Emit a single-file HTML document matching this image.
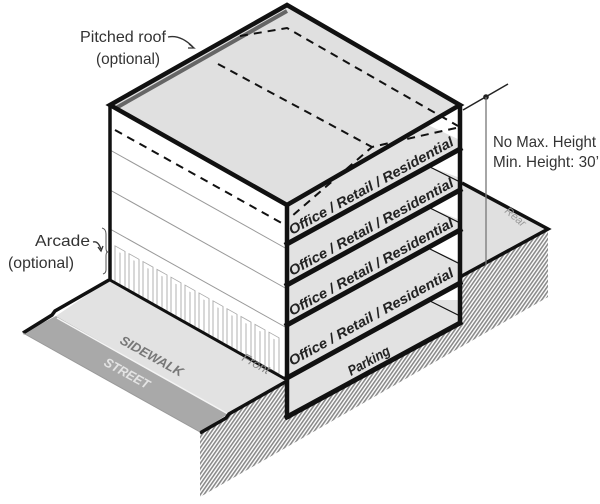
<!DOCTYPE html>
<html><head><meta charset="utf-8"><style>html,body{margin:0;padding:0;background:#fff}svg{display:block}</style></head>
<body>
<svg width="600" height="504" viewBox="0 0 600 504" xmlns="http://www.w3.org/2000/svg" font-family="Liberation Sans, sans-serif">
<defs>
<pattern id="h" width="3" height="3" patternUnits="userSpaceOnUse" patternTransform="rotate(35)">
<rect width="3" height="3" fill="#fff"/><rect width="1.6" height="3" fill="#8a8a8a"/>
</pattern>
</defs>
<!-- hatched ground -->
<polygon points="200,432 287,382 287,417 460,323 460,277 548,229 548,297 200,497" fill="url(#h)"/>
<!-- street & sidewalk -->
<polygon points="23,333 56,316 228,414 200,432" fill="#a9a9a9"/>
<polygon points="56,316 109,280 287,380 228,414" fill="#e2e2e2"/>
<line x1="57" y1="318" x2="228" y2="414" stroke="#f4f4f4" stroke-width="1.5"/>
<polyline points="109,280 55,311 52,315 23,333" fill="none" stroke="#111" stroke-width="3.5"/>
<polyline points="200,433 226,418 229,414 287,381" fill="none" stroke="#111" stroke-width="3.5"/>
<line x1="23" y1="333" x2="200" y2="432" stroke="#999" stroke-width="1"/>
<!-- rear lot -->
<polygon points="460,183 548,229 460,277" fill="#e0e0e0"/>
<polyline points="462,183 548,229 460,277" fill="none" stroke="#111" stroke-width="3.5"/>
<!-- left face -->
<polygon points="110,105 287,205 287,380 110,280" fill="#fff"/>
<g stroke="#999" stroke-width="1" fill="none">
<line x1="110" y1="150" x2="287" y2="249"/>
<line x1="110" y1="190" x2="287" y2="289"/>
<line x1="110" y1="229" x2="287" y2="328"/>
</g>
<g transform="translate(110,0) skewY(29.3)" stroke="#aaa" stroke-width="0.9" fill="none">
<rect x="5" y="243" width="10" height="36"/><line x1="10" y1="247" x2="10" y2="279"/>
<rect x="19" y="243" width="10" height="36"/><line x1="24" y1="247" x2="24" y2="279"/>
<rect x="33" y="243" width="10" height="36"/><line x1="38" y1="247" x2="38" y2="279"/>
<rect x="47" y="243" width="10" height="36"/><line x1="52" y1="247" x2="52" y2="279"/>
<rect x="61" y="243" width="10" height="36"/><line x1="66" y1="247" x2="66" y2="279"/>
<rect x="75" y="243" width="10" height="36"/><line x1="80" y1="247" x2="80" y2="279"/>
<rect x="89" y="243" width="10" height="36"/><line x1="94" y1="247" x2="94" y2="279"/>
<rect x="103" y="243" width="10" height="36"/><line x1="108" y1="247" x2="108" y2="279"/>
<rect x="117" y="243" width="10" height="36"/><line x1="122" y1="247" x2="122" y2="279"/>
<rect x="131" y="243" width="10" height="36"/><line x1="136" y1="247" x2="136" y2="279"/>
<rect x="145" y="243" width="10" height="36"/><line x1="150" y1="247" x2="150" y2="279"/>
<rect x="159" y="243" width="10" height="36"/><line x1="164" y1="247" x2="164" y2="279"/>
</g>
<line x1="110" y1="280" x2="287" y2="380" stroke="#111" stroke-width="3"/>
<line x1="110" y1="105" x2="110" y2="281" stroke="#111" stroke-width="3.5"/>
<line x1="115" y1="130" x2="287" y2="226" stroke="#111" stroke-width="2" stroke-dasharray="8,6"/>
<!-- section bands -->
<polygon points="287,205 460,107 460,323 287,417" fill="#e2e2e2"/>
<g fill="#fff">
<polygon points="428,125 460,107 460,140"/>
<polygon points="428,166 460,149 460,178"/>
<polygon points="428,207 460,190 460,220"/>
<polygon points="428,248 460,230 460,262"/>
<polygon points="428,300 460,283 460,300"/>
</g>
<g stroke="#111" stroke-width="1.2">
<line x1="428" y1="166" x2="460" y2="182"/>
<line x1="428" y1="207" x2="460" y2="223"/>
<line x1="428" y1="248" x2="460" y2="264"/>
<line x1="428" y1="300" x2="460" y2="316"/>
</g>
<g stroke="#111" stroke-width="5" stroke-linecap="square">
<line x1="287" y1="244" x2="460" y2="149"/>
<line x1="287" y1="285" x2="460" y2="190"/>
<line x1="287" y1="325" x2="460" y2="230"/>
<line x1="287" y1="378" x2="460" y2="283"/>
<line x1="287" y1="417" x2="460" y2="323"/>
</g>
<line x1="287" y1="205" x2="287" y2="419" stroke="#111" stroke-width="4.5"/>
<line x1="460" y1="105" x2="460" y2="324" stroke="#111" stroke-width="4.5"/>
<g font-weight="bold" font-style="italic" font-size="14" fill="#222">
<text transform="translate(292,235) rotate(-29)" textLength="186" lengthAdjust="spacingAndGlyphs">Office / Retail / Residential</text>
<text transform="translate(292,276) rotate(-29)" textLength="186" lengthAdjust="spacingAndGlyphs">Office / Retail / Residential</text>
<text transform="translate(292,316) rotate(-29)" textLength="186" lengthAdjust="spacingAndGlyphs">Office / Retail / Residential</text>
<text transform="translate(292,366) rotate(-29)" textLength="186" lengthAdjust="spacingAndGlyphs">Office / Retail / Residential</text>
<text transform="translate(351,376) rotate(-29)" textLength="46" lengthAdjust="spacingAndGlyphs">Parking</text>
</g>
<!-- roof -->
<polygon points="287,5 460,105 287,205 110,105" fill="#e0e0e0"/>
<line x1="116" y1="108" x2="287" y2="11" stroke="#666" stroke-width="4"/>
<g stroke="#111" stroke-width="2" fill="none" stroke-dasharray="8,6">
<polyline points="240,36 287,28 458,126"/>
<line x1="218" y1="64" x2="372" y2="147"/>
<polyline points="456,128 420,136 372,147 292,216"/>
</g>
<polygon points="287,5 460,105 287,205 110,105" fill="none" stroke="#111" stroke-width="4.5" stroke-linejoin="miter"/>
<!-- height dimension -->
<line x1="463" y1="110" x2="508" y2="84" stroke="#222" stroke-width="1.5"/>
<circle cx="486" cy="97" r="2.8" fill="#222"/>
<line x1="486" y1="97" x2="486" y2="265" stroke="#777" stroke-width="1.3"/>
<g font-size="16" fill="#333">
<text x="493" y="147" textLength="103" lengthAdjust="spacingAndGlyphs">No Max. Height</text>
<text x="493" y="167" textLength="106" lengthAdjust="spacingAndGlyphs">Min. Height: 30’</text>
<text x="80" y="42" textLength="86" lengthAdjust="spacingAndGlyphs">Pitched roof</text>
<text x="96" y="64" textLength="64" lengthAdjust="spacingAndGlyphs">(optional)</text>
<text x="35" y="246" textLength="55" lengthAdjust="spacingAndGlyphs">Arcade</text>
<text x="8" y="268" textLength="66" lengthAdjust="spacingAndGlyphs">(optional)</text>
</g>
<path d="M168,37 C178,35 186,40 193,47" fill="none" stroke="#333" stroke-width="1.3"/>
<path d="M189,44 L194,48 L188,48" fill="none" stroke="#333" stroke-width="1.3"/>
<path d="M93,242 C97,241 99,244 101,249" fill="none" stroke="#333" stroke-width="1.3"/>
<path d="M98,247 L101,251 L103,246" fill="none" stroke="#333" stroke-width="1.3"/>
<path d="M102,228 Q106,229 106,234 L106,248 Q106,252 108,252 Q106,252 106,256 L106,270 Q106,273 103,274" fill="none" stroke="#555" stroke-width="1"/>
<!-- ground labels -->
<g font-weight="bold" font-style="italic">
<text transform="translate(119,343) rotate(29)" font-size="13" fill="#777" textLength="70" lengthAdjust="spacingAndGlyphs">SIDEWALK</text>
<text transform="translate(103,365) rotate(29)" font-size="13" fill="#e4e4e4" textLength="50" lengthAdjust="spacingAndGlyphs">STREET</text>
<text transform="translate(241,360) rotate(29)" font-size="12" fill="#888" font-weight="normal" textLength="30" lengthAdjust="spacingAndGlyphs">Front</text>
<text transform="translate(504,212) rotate(40)" font-size="11" fill="#999" font-weight="normal">Rear</text>
</g>
</svg>
</body></html>
